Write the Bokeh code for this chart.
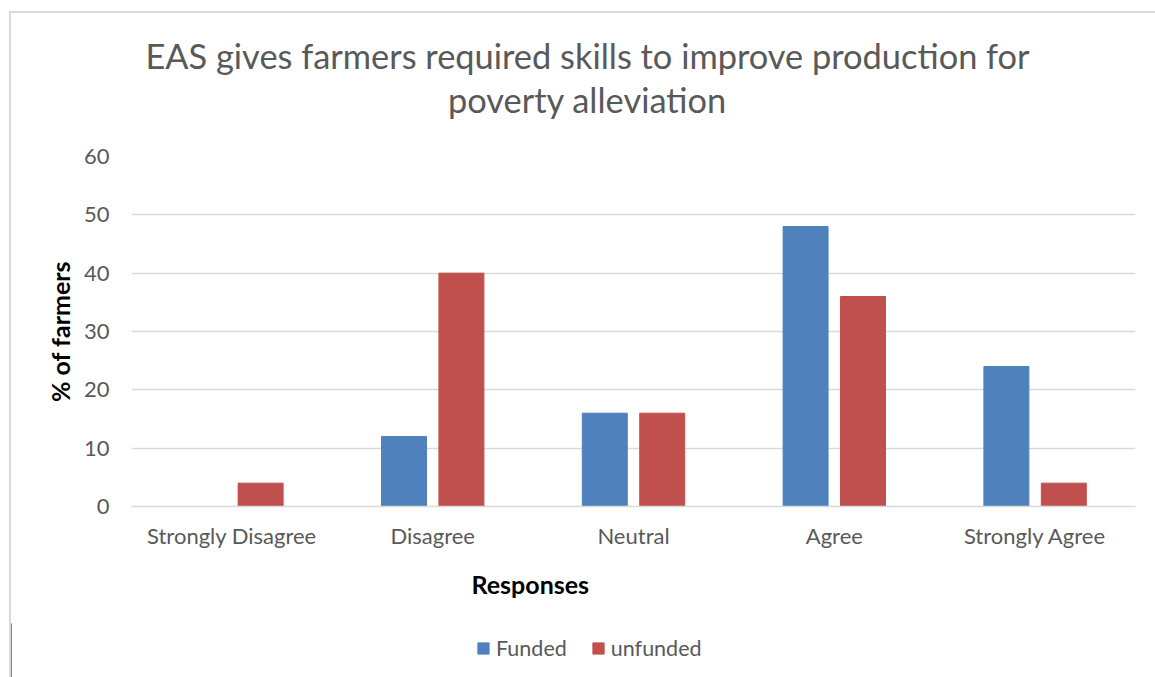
from bokeh.plotting import figure
from bokeh.layouts import column
from bokeh.models import ColumnDataSource, FactorRange, Range1d, FixedTicker, Legend, LegendItem, Title
from bokeh.core.properties import value
from bokeh.transform import dodge
from bokeh.embed import file_html
from bokeh.resources import INLINE

# Survey responses (% of farmers)
responses = ["Strongly Disagree", "Disagree", "Neutral", "Agree", "Strongly Agree"]
funded = [0, 12, 16, 48, 24]
unfunded = [4, 40, 16, 36, 4]
y_ticks = [0, 10, 20, 30, 40, 50, 60]
series_names = ["Funded", "unfunded"]
title_lines = ["EAS gives farmers required skills to improve production for",
               "poverty alleviation"]

BLUE = "#4F81BD"
RED = "#C0504D"
GRID = "#D9D9D9"
TEXT = "#595959"
FONT = "Lato"
W = 1144


def bare(fig):
    fig.axis.visible = False
    fig.grid.visible = False
    fig.outline_line_color = None
    fig.border_fill_color = "white"
    fig.background_fill_color = "white"


# Title strip: two centred lines
TH = 123
tf = figure(width=W, height=TH, output_backend="svg", toolbar_location=None,
            min_border=0, frame_align=False, title=None,
            x_range=Range1d(0, W), y_range=Range1d(0, TH))
bare(tf)
tf.text(x=[W / 2 + 4, W / 2 + 4], y=[TH - 42, TH - 86], text=title_lines,
        text_align="center", text_baseline="alphabetic",
        text_font=value(FONT), text_font_size=value("34.4px"), text_color=TEXT)

# Main chart
source = ColumnDataSource(dict(responses=responses, funded=funded, unfunded=unfunded))

p = figure(
    x_range=FactorRange(*responses),
    y_range=Range1d(0, 60),
    width=W, height=487, title=None,
    output_backend="svg", toolbar_location=None, frame_align=False,
    min_border_left=120, min_border_right=20,
    min_border_top=20, min_border_bottom=117,
)
p.outline_line_color = None
p.background_fill_color = "white"
p.border_fill_color = "white"

w = 0.224
p.vbar(x=dodge("responses", -0.143, range=p.x_range), top="funded", width=w,
       source=source, fill_color=BLUE, line_color=BLUE)
p.vbar(x=dodge("responses", 0.143, range=p.x_range), top="unfunded", width=w,
       source=source, fill_color=RED, line_color=RED)

p.xgrid.grid_line_color = None
p.ygrid.grid_line_color = GRID
p.ygrid.grid_line_width = 1.5

p.yaxis.ticker = FixedTicker(ticks=y_ticks)
p.yaxis.axis_line_color = None
p.yaxis.major_tick_line_color = None
p.yaxis.minor_tick_line_color = None
p.yaxis.major_tick_out = 0
p.yaxis.major_label_standoff = 22
p.yaxis.major_label_text_font = FONT
p.yaxis.major_label_text_font_size = "22px"
p.yaxis.major_label_text_color = TEXT
p.yaxis.axis_label = "% of farmers"
p.yaxis.axis_label_text_font = FONT
p.yaxis.axis_label_text_font_size = "25px"
p.yaxis.axis_label_text_font_style = "bold"
p.yaxis.axis_label_text_color = "black"
p.yaxis.axis_label_standoff = 6

p.xaxis.axis_line_color = GRID
p.xaxis.axis_line_width = 1.5
p.xaxis.major_tick_line_color = None
p.xaxis.major_tick_out = 0
p.xaxis.major_label_standoff = 15
p.xaxis.major_label_text_font = FONT
p.xaxis.major_label_text_font_size = "22px"
p.xaxis.major_label_text_color = TEXT

# Category axis title, set left of centre
p.add_layout(Title(
    text="Responses", align="left", offset=340, text_font=FONT,
    text_font_size="25px", text_font_style="bold", text_color="black", standoff=31,
), "below")

# Legend strip under the chart
leg = figure(width=W, height=54, output_backend="svg", toolbar_location=None,
             min_border=0, frame_align=False, title=None,
             x_range=Range1d(0, 1), y_range=Range1d(0, 1))
bare(leg)
k1 = leg.vbar(x=[-5], top=[1], width=0.1, fill_color=BLUE, line_color=BLUE)
k2 = leg.vbar(x=[-5], top=[1], width=0.1, fill_color=RED, line_color=RED)
legend = Legend(
    items=[LegendItem(label=series_names[0], renderers=[k1]),
           LegendItem(label=series_names[1], renderers=[k2])],
    orientation="horizontal", location=(465, 16),
    glyph_width=14, glyph_height=14, label_standoff=6, spacing=24,
    padding=0, margin=0, border_line_color=None, background_fill_alpha=0,
    label_text_font=FONT, label_text_font_size="21.5px", label_text_color=TEXT,
)
leg.add_layout(legend, "center")

# Light frame along the left and top edges of the chart area
for fig in (tf, p, leg):
    fig.styles = {"box-shadow": "-2px 0 0 0 #D9D9D9"}

page = column(tf, p, leg, spacing=0)
page.styles = {
    "margin-left": "9px", "margin-top": "11px",
    "border-left": "2px solid #D9D9D9", "border-top": "2px solid #D9D9D9",
}

open("out.html", "w").write(file_html(page, INLINE))
